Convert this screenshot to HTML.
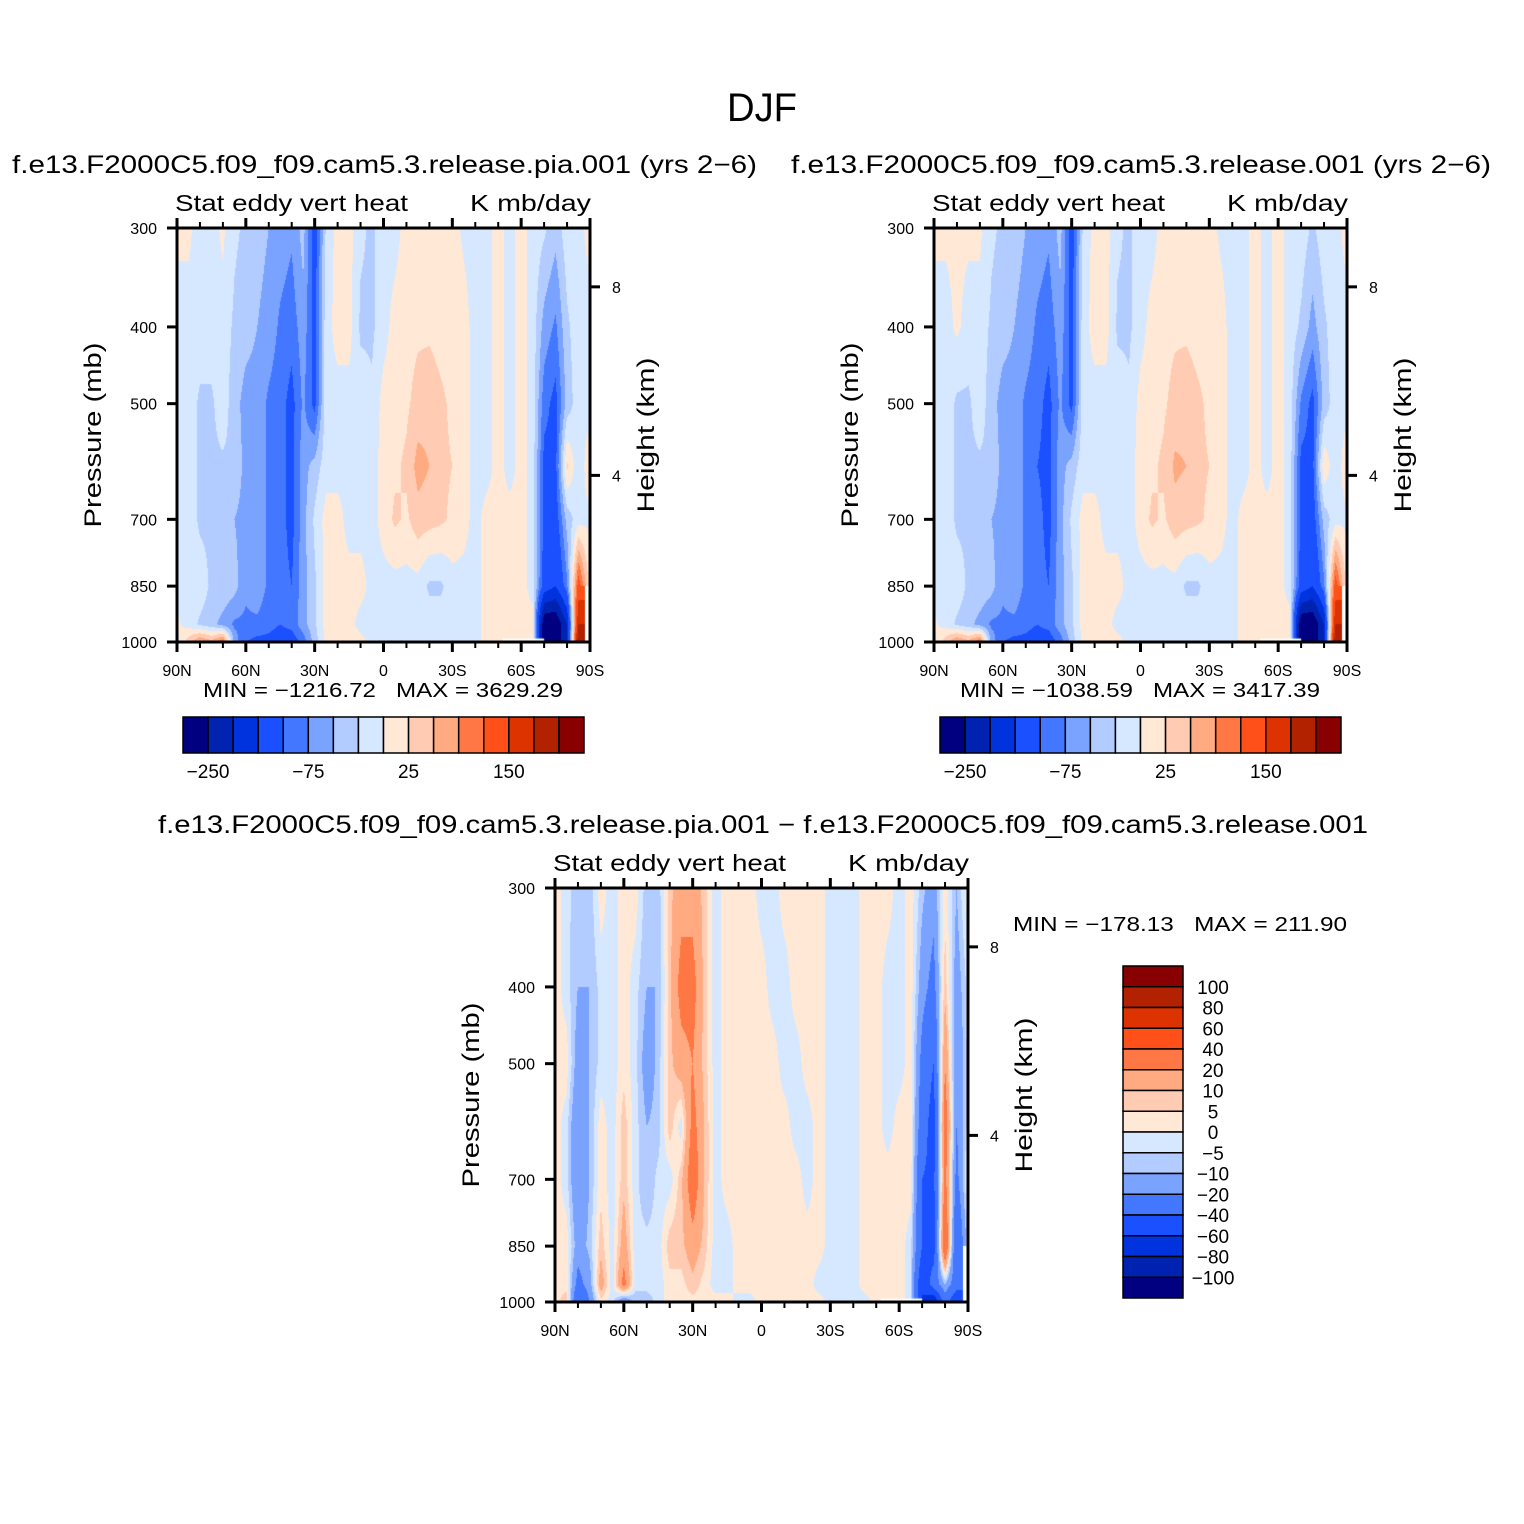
<!DOCTYPE html>
<html><head><meta charset="utf-8">
<style>
html,body{margin:0;padding:0;background:#fff;}
#wrap{position:relative;width:1524px;height:1524px;overflow:hidden;background:#fff;}
canvas{position:absolute;}
svg{position:absolute;left:0;top:0;}
text{font-family:"Liberation Sans",sans-serif;fill:#000;white-space:pre;}
</style></head>
<body>
<div id="wrap">
<canvas id="c1" style="left:177px;top:228px" width="413" height="414"></canvas>
<canvas id="c2" style="left:934px;top:228px" width="413" height="414"></canvas>
<canvas id="c3" style="left:555px;top:888px" width="413" height="414"></canvas>
<svg id="svg" width="1524" height="1524" xmlns="http://www.w3.org/2000/svg">
<text x="762" y="121" font-size="40" text-anchor="middle" textLength="70" lengthAdjust="spacingAndGlyphs">DJF</text>
<text x="12" y="173" font-size="25" textLength="745" lengthAdjust="spacingAndGlyphs">f.e13.F2000C5.f09_f09.cam5.3.release.pia.001 (yrs 2−6)</text>
<text x="791" y="173" font-size="25" textLength="700" lengthAdjust="spacingAndGlyphs">f.e13.F2000C5.f09_f09.cam5.3.release.001 (yrs 2−6)</text>
<text x="158" y="833" font-size="25" textLength="1210" lengthAdjust="spacingAndGlyphs">f.e13.F2000C5.f09_f09.cam5.3.release.pia.001 − f.e13.F2000C5.f09_f09.cam5.3.release.001</text>
</svg>
</div>
<script>
// ---- data ----
const levels = [300,400,500,600,700,850,950,1000];
const lats = [90,85,80,75,70,65,60,55,50,45,40,35,30,25,20,15,10,5,0,-5,-10,-15,-20,-25,-30,-35,-40,-45,-50,-55,-60,-65,-70,-75,-80,-85,-90];
const contourLevelsAbs = [-250,-200,-150,-100,-75,-50,-25,0,25,50,75,100,150,200,250];
const contourLevelsDiff = [-100,-80,-60,-40,-20,-10,-5,0,5,10,20,40,60,80,100];
const colorbarLabelsAbs = ["−250","−75","25","150"];
const colors = ["#000080","#0022b0","#0033dd","#1a50ff","#4477ff","#7aa2ff","#b3ccff","#d6e8ff","#ffe8d6","#ffccb3","#ffaa80","#ff7744","#ff501a","#dd3300","#b32200","#880000"];

const fieldPia = [
 [5,5,-10,-10,5,-20,-30,-40,-50,-60,-70,-40,-120,-20,10,10,-20,-30,-10,-10,10,10,10,10,10,-5,-10,-10,10,-10,10,-10,-20,-40,-10,-10,10],
 [-10,-10,-10,-10,-10,-30,-40,-50,-60,-80,-90,-60,-110,-10,10,10,-30,-30,-10,10,15,20,20,15,15,10,-10,-10,10,-10,10,-10,-60,-80,-30,-10,-10],
 [-10,-10,-30,-30,-10,-40,-60,-60,-80,-90,-110,-70,-110,-10,-10,-10,-10,-20,10,15,20,35,40,30,20,10,-10,-10,10,-10,10,-10,-90,-110,-40,-10,-10],
 [-10,-10,-30,-30,-30,-30,-60,-60,-80,-90,-110,-60,-40,-10,-10,-10,-10,-10,10,20,30,60,50,30,25,10,-10,-10,10,-10,10,-10,-110,-110,30,-20,20],
 [-10,-10,-30,-30,-30,-50,-60,-60,-80,-90,-110,-60,-20,10,10,-10,-10,-10,10,30,20,40,35,30,20,10,-10,10,10,10,10,-10,-110,-120,-40,-10,-5],
 [-10,-10,-10,-30,-30,-40,-70,-60,-80,-90,-100,-60,-30,10,10,10,10,-10,-10,-10,-10,-10,-30,-30,-10,-10,-10,10,10,10,10,-10,-120,-150,-80,120,10],
 [5,-10,-30,-40,-60,-80,-80,-80,-90,-100,-90,-60,-30,10,10,10,-10,-10,-10,-10,-10,-10,-10,-10,-10,-10,-10,10,10,10,10,10,-300,-300,-200,200,null],
 [-10,40,80,60,100,-60,-100,-110,-110,-120,-120,-90,-40,10,10,10,10,-10,-10,-10,-10,-10,-10,-10,-10,-10,-10,10,10,10,10,10,-300,-300,-200,250,null]
];
const fieldCtl = [
 [5,5,5,5,5,-20,-30,-40,-50,-60,-70,-40,-120,-20,10,10,-20,-30,-10,-10,10,10,10,10,10,-5,-10,-10,10,-10,10,-10,-10,-30,-10,-10,10],
 [-10,-10,5,-10,-10,-30,-40,-50,-60,-80,-90,-60,-110,-10,10,10,-30,-30,-10,10,15,20,20,15,15,10,-10,-10,10,-10,10,-10,-30,-60,-30,-10,-10],
 [-10,-10,-30,-30,-10,-40,-60,-60,-80,-90,-110,-70,-110,-10,-10,-10,-10,-20,10,15,20,35,40,30,20,10,-10,-10,10,-10,10,-10,-80,-110,-40,-10,-10],
 [-10,-10,-30,-30,-30,-30,-60,-60,-80,-100,-110,-60,-40,-10,-10,-10,-10,-10,10,20,30,55,50,30,25,10,-10,-10,10,-10,10,-10,-110,-110,20,-20,20],
 [-10,-10,-30,-30,-30,-50,-60,-60,-80,-90,-110,-60,-20,10,10,-10,-10,-10,10,30,20,40,35,30,20,10,-10,10,10,10,10,-10,-110,-120,-40,-10,-5],
 [-10,-10,-10,-30,-30,-40,-70,-60,-80,-90,-100,-60,-30,10,10,10,10,-10,-10,-10,-10,-10,-30,-30,-10,-10,-10,10,10,10,10,-10,-120,-150,-80,120,10],
 [5,-10,-30,-40,-60,-80,-80,-80,-90,-100,-90,-60,-30,10,10,10,-10,-10,-10,-10,-10,-10,-10,-10,-10,-10,-10,10,10,10,10,10,-300,-300,-200,200,null],
 [-10,40,80,60,100,-60,-100,-110,-110,-120,-120,-90,-40,10,10,10,10,-10,-10,-10,-10,-10,-10,-10,-10,-10,-10,10,10,10,10,10,-300,-300,-200,250,null]
];
const fieldDiff = [
 [3,-3,-8,-8,3,-3,3,3,-8,-8,8,15,15,8,-3,3,3,3,-3,-3,3,3,3,3,-3,-3,-3,3,3,3,-3,3,-8,-15,3,-10,3],
 [3,-3,-10,-10,-3,-3,3,-3,-10,-10,8,25,25,8,-3,3,3,3,3,-3,-3,3,3,3,-3,-3,-3,3,3,-3,-3,3,-15,-25,8,-15,-3],
 [3,3,-15,-10,-3,-3,3,-3,-15,-8,8,15,20,8,-3,3,3,3,3,3,-3,-3,3,3,-3,-3,-3,3,3,-3,-3,3,-25,-40,20,-20,-3],
 [3,-3,-20,-10,3,-3,8,-3,-10,-8,8,-3,25,10,-3,3,3,3,3,3,3,-3,-3,3,-3,-3,-3,3,3,-3,3,3,-30,-50,30,-20,-3],
 [3,-3,-20,-10,3,-3,8,-3,-10,-3,-3,8,30,10,-3,3,3,3,3,3,3,3,-3,3,-3,-3,-3,3,3,3,3,3,-40,-45,25,-25,3],
 [3,3,-15,-8,8,-3,15,-3,-3,-3,8,8,15,8,-3,-3,3,3,3,3,3,3,3,3,-3,-3,-3,3,3,3,3,-3,-40,-50,40,-40,-5],
 [3,3,-25,-15,15,-3,25,-3,-3,-3,3,3,8,3,-3,-3,3,3,3,3,3,3,3,-3,-3,-3,-3,3,3,3,3,-3,-60,-30,-10,-30,null],
 [3,8,-40,-20,3,-3,-20,-8,-8,-3,3,3,3,3,3,3,-3,-3,3,3,3,3,3,3,-3,-3,-3,-3,3,3,3,-3,-60,-80,-30,-60,null]
];
const xTickLabels = ["90N","60N","30N","0","30S","60S","90S"];
const xTickLats = [90,60,30,0,-30,-60,-90];
const pTicks = [300,400,500,700,850,1000];
const hTicks = [8,4];
const hTickP = [356,616];
const diffBarLabels = ["100","80","60","40","20","10","5","0","−5","−10","−20","−40","−60","−80","−100"];

// ---- axis functions ----
const W = 413, H = 414;
function xOfLat(lat){ return (90 - lat) / 180 * W; }
function yOfP(p){ return H - Math.log(1000/p) / Math.log(1000/300) * H; }
function hexToRgb(h){ return [parseInt(h.substr(1,2),16),parseInt(h.substr(3,2),16),parseInt(h.substr(5,2),16)]; }
const rgb = colors.map(hexToRgb);
function binOf(v, lv){ let k=0; while(k<lv.length && v>=lv[k]) k++; return k; }

function drawField(canvasId, field, lv){
  const cv = document.getElementById(canvasId), ctx = cv.getContext('2d');
  const img = ctx.createImageData(W, H), d = img.data;
  const ly = levels.map(yOfP), lx = lats.map(xOfLat);
  for(let py=0; py<H; py++){
    const yy = py + 0.5;
    let r = 0; while(r < levels.length-2 && yy > ly[r+1]) r++;
    let ty = (yy - ly[r]) / (ly[r+1] - ly[r]); ty = Math.max(0, Math.min(1, ty));
    for(let px=0; px<W; px++){
      const xx = px + 0.5;
      let c = Math.min(lats.length-2, Math.floor(xx / (W/(lats.length-1))));
      let tx = (xx - lx[c]) / (lx[c+1] - lx[c]); tx = Math.max(0, Math.min(1, tx));
      const a = field[r][c], b = field[r][c+1], e = field[r+1][c], f = field[r+1][c+1];
      const o = (py*W + px)*4;
      if(a==null||b==null||e==null||f==null){
        if(tx < 0.6 && a!=null && e!=null){
          const v0 = a*(1-ty) + e*ty; const col0 = rgb[binOf(v0, lv)];
          d[o]=col0[0]; d[o+1]=col0[1]; d[o+2]=col0[2]; d[o+3]=255; continue;
        }
        d[o]=255;d[o+1]=255;d[o+2]=255;d[o+3]=255; continue;
      }
      const v = (a*(1-tx)+b*tx)*(1-ty) + (e*(1-tx)+f*tx)*ty;
      const col = rgb[binOf(v, lv)];
      d[o]=col[0]; d[o+1]=col[1]; d[o+2]=col[2]; d[o+3]=255;
    }
  }
  ctx.putImageData(img, 0, 0);
  ctx.fillStyle = '#fff';
  ctx.fillRect(xOfLat(-52), yOfP(990), xOfLat(-70) - xOfLat(-52), H - yOfP(990));
}
drawField('c1', fieldPia, contourLevelsAbs);
drawField('c2', fieldCtl, contourLevelsAbs);
drawField('c3', fieldDiff, contourLevelsDiff);

// ---- SVG annotations ----
const NS = 'http://www.w3.org/2000/svg';
const svg = document.getElementById('svg');
function mk(tag, attrs, parent){ const el = document.createElementNS(NS, tag); for(const k in attrs) el.setAttribute(k, attrs[k]); (parent||svg).appendChild(el); return el; }
function txt(x, y, s, size, anchor, parent){ const t = mk('text', {x:x, y:y, 'font-size':size, 'text-anchor':anchor||'start'}, parent); t.textContent = s; return t; }

function drawAxes(x0, y0, prefix, minmax, mmx, mmy, mmLen){
  const g = mk('g', {});
  
  
  const fr = mk('rect', {x:x0, y:y0, width:W, height:H, fill:'none', stroke:'#000', 'stroke-width':3}, g);
  
  
  for(let lat=90; lat>=-90; lat-=10){
    const x = x0 + xOfLat(lat), major = (lat % 30 === 0), L = major ? 10 : 6;
    mk('line', {x1:x, y1:y0+H, x2:x, y2:y0+H+L, stroke:'#000', 'stroke-width':major?3:2}, g);
    mk('line', {x1:x, y1:y0, x2:x, y2:y0-L, stroke:'#000', 'stroke-width':major?3:2}, g);
  }
  for(let i=0; i<xTickLabels.length; i++){
    const t = txt(x0 + xOfLat(xTickLats[i]), y0+H+34, xTickLabels[i], 16, 'middle', g);
    
    
  }
  for(let i=0; i<pTicks.length; i++){
    const y = y0 + yOfP(pTicks[i]);
    mk('line', {x1:x0-10, y1:y, x2:x0, y2:y, stroke:'#000', 'stroke-width':3}, g);
    const t = txt(x0-20, y+6, String(pTicks[i]), 16, 'end', g);
    
    
  }
  for(let i=0; i<hTicks.length; i++){
    const y = y0 + yOfP(hTickP[i]);
    mk('line', {x1:x0+W, y1:y, x2:x0+W+10, y2:y, stroke:'#000', 'stroke-width':3}, g);
    const t = txt(x0+W+22, y+6, String(hTicks[i]), 16, 'start', g);
    
    
  }
  const yt = mk('text', {x:0, y:0, 'font-size':24, 'text-anchor':'middle', textLength:185, lengthAdjust:'spacingAndGlyphs', transform:'translate('+(x0-76)+','+(y0+207)+') rotate(-90)'}, g);
  yt.textContent = 'Pressure (mb)';
  
  
  const ht = mk('text', {x:0, y:0, 'font-size':24, 'text-anchor':'middle', textLength:155, lengthAdjust:'spacingAndGlyphs', transform:'translate('+(x0+W+64)+','+(y0+207)+') rotate(-90)'}, g);
  ht.textContent = 'Height (km)';
  
  
  const s1 = mk('text', {x:x0-2, y:y0-17, 'font-size':23, textLength:233, lengthAdjust:'spacingAndGlyphs'}, g);
  s1.textContent = 'Stat eddy vert heat';
  
  
  const s2 = mk('text', {x:x0+W+1, y:y0-17, 'font-size':23, 'text-anchor':'end', textLength:121, lengthAdjust:'spacingAndGlyphs'}, g);
  s2.textContent = 'K mb/day';
  
  
  const mm = mk('text', {x:mmx, y:mmy, 'font-size':20, textLength:mmLen, lengthAdjust:'spacingAndGlyphs'}, g);
  mm.textContent = minmax;
  
  
}
drawAxes(177, 228, 'panel1', 'MIN = −1216.72   MAX = 3629.29', 203, 697, 360);
drawAxes(934, 228, 'panel2', 'MIN = −1038.59   MAX = 3417.39', 960, 697, 360);
drawAxes(555, 888, 'diff', 'MIN = −178.13   MAX = 211.90', 1013, 931, 334);

function hColorbar(x0, prefix){
  const g = mk('g', {});
  
  
  const bw = 401/colors.length;
  for(let i=0; i<colors.length; i++){
    const r = mk('rect', {x:x0+i*bw, y:717, width:bw, height:36, fill:colors[i], stroke:'#000', 'stroke-width':1.5}, g);
    
    
  }
  for(let j=0; j<colorbarLabelsAbs.length; j++){
    const t = txt(x0 + (1+4*j)*bw, 778, colorbarLabelsAbs[j], 19, 'middle', g);
    
    
  }
}
hColorbar(183, 'panel1');
hColorbar(940, 'panel2');

(function(){
  const g = mk('g', {});
  
  
  const bh = 332/colors.length;
  for(let i=0; i<colors.length; i++){
    const r = mk('rect', {x:1123, y:966+i*bh, width:60, height:bh, fill:colors[colors.length-1-i], stroke:'#000', 'stroke-width':1.5}, g);
    
    
  }
  for(let i=0; i<diffBarLabels.length; i++){
    const t = txt(1213, 966+(i+1)*bh+7, diffBarLabels[i], 19, 'middle', g);
    
    
  }
})();
</script>
</body></html>
